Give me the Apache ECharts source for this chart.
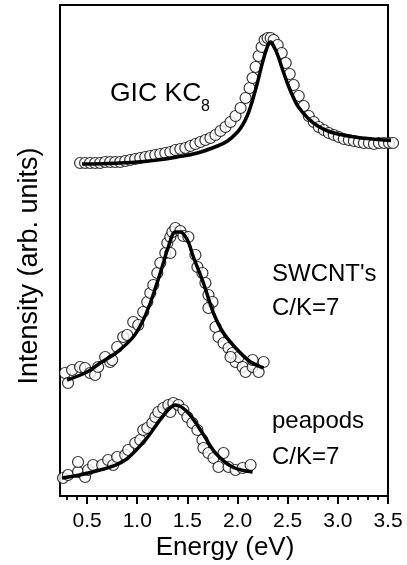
<!DOCTYPE html>
<html>
<head>
<meta charset="utf-8">
<script src="https://cdn.jsdelivr.net/npm/echarts@6/dist/echarts.min.js"></script>
<style>html,body{margin:0;padding:0;background:#fff}#c{width:407px;height:565px}</style>
</head>
<body>
<div id="c"></div>
<script>
// Tick labels / tick positions (eV)
var majorTicks = [0.5, 1.0, 1.5, 2.0, 2.5, 3.0, 3.5];
var minorTicks = [0.3, 0.4, 0.6, 0.7, 0.8, 0.9, 1.1, 1.2, 1.3, 1.4, 1.6, 1.7, 1.8, 1.9, 2.1, 2.2, 2.3, 2.4, 2.6, 2.7, 2.8, 2.9, 3.1, 3.2, 3.3, 3.4];

// GIC KC8 measured points [energy, intensity]
var gicPoints = [[0.43,333],[0.48,333],[0.53,333],[0.58,333],[0.63,333],[0.68,334],[0.73,334],[0.78,334],[0.83,334],[0.88,335],[0.93,336],[0.98,337],[1.03,338],[1.08,339],[1.13,340],[1.18,341],[1.23,342],[1.28,343],[1.33,344],[1.38,346],[1.43,347],[1.48,348],[1.53,350],[1.58,352],[1.63,354],[1.68,356],[1.73,358],[1.78,361],[1.83,365],[1.88,369],[1.93,374],[1.98,380],[2.03,388],[2.08,398],[2.12,408],[2.15,418],[2.18,429],[2.21,440],[2.24,449],[2.27,456],[2.30,458],[2.33,458],[2.36,456],[2.40,451],[2.44,443],[2.48,433],[2.52,422],[2.56,411],[2.61,400],[2.66,390],[2.71,380],[2.76,374],[2.81,369],[2.86,366],[2.91,363],[2.96,361],[3.01,359],[3.06,357],[3.11,356],[3.16,355],[3.21,354],[3.26,353],[3.31,353],[3.36,352],[3.41,353],[3.46,353],[3.51,353],[3.55,353]];
// GIC KC8 fit
var gicFit = [[0.45,332],[0.7,332.5],[1.0,334],[1.2,336],[1.4,339],[1.6,343],[1.8,350],[1.9,355],[2.0,364],[2.05,371],[2.1,381],[2.15,396],[2.2,414],[2.25,434],[2.3,450],[2.33,454],[2.36,450],[2.4,441],[2.45,426],[2.5,412],[2.55,400],[2.6,390],[2.7,378],[2.8,370],[2.9,365],[3.0,362],[3.2,358.5],[3.4,356.5],[3.55,355.5]];

// SWCNT's measured points
var swcntPoints = [[0.28,123],[0.31,113],[0.35,126],[0.43,129],[0.48,128],[0.53,123],[0.58,121],[0.61,129],[0.68,139],[0.73,134],[0.75,136],[0.80,149],[0.86,159],[0.90,161],[0.96,174],[1.01,171],[1.06,184],[1.10,194],[1.13,203],[1.16,211],[1.20,223],[1.23,233],[1.28,243],[1.30,253],[1.33,259],[1.35,264],[1.38,268],[1.43,265],[1.46,260],[1.51,259],[1.58,241],[1.60,229],[1.65,223],[1.68,213],[1.71,201],[1.75,194],[1.71,188],[1.78,169],[1.81,159],[1.86,153],[1.91,148],[1.95,143],[1.98,134],[2.05,129],[2.08,124],[2.15,129],[2.21,124],[2.26,134],[2.15,136],[2.01,139],[1.93,139],[1.33,243]];
// SWCNT's fit
var swcntFit = [[0.30,116],[0.5,124],[0.63,133],[0.8,144],[0.96,159],[1.05,174],[1.13,193],[1.23,223],[1.31,249],[1.38,264],[1.43,264],[1.50,256],[1.56,239],[1.66,213],[1.76,183],[1.86,163],[2.0,146],[2.13,134],[2.26,128]];

// peapods measured points
var peapodPoints = [[0.26,18],[0.31,21],[0.41,24],[0.48,19],[0.41,34],[0.51,26],[0.56,31],[0.65,31],[0.71,36],[0.76,31],[0.80,39],[0.88,41],[0.91,46],[0.98,53],[1.03,56],[1.06,66],[1.10,68],[1.15,73],[1.18,79],[1.21,84],[1.26,88],[1.31,91],[1.36,93],[1.33,84],[1.41,91],[1.46,86],[1.50,79],[1.55,73],[1.60,66],[1.65,56],[1.66,48],[1.71,43],[1.76,38],[1.81,29],[1.86,43],[1.91,29],[1.98,26],[2.05,28],[2.13,31]];
// peapods fit
var peapodFit = [[0.25,18],[0.51,23],[0.85,34],[1.08,56],[1.25,79],[1.38,91],[1.50,84],[1.65,63],[1.78,43],[1.95,29],[2.15,24]];

var FONT = '"Liberation Sans", Arial, Helvetica, sans-serif';

function pts(d) {
  return {
    type: 'scatter', data: d, symbol: 'circle', symbolSize: 11, clip: false, z: 2,
    itemStyle: { color: '#fff', borderColor: '#000', borderWidth: 1.2 }
  };
}
function fit(d) {
  return {
    type: 'line', data: d, showSymbol: false, smooth: 0.35, clip: false, z: 3,
    lineStyle: { color: '#000', width: 3.5 }
  };
}

var chart = echarts.init(document.getElementById('c'), null, { renderer: 'canvas' });
chart.setOption({
  animation: false,
  grid: { left: 60, right: 19, top: 5, bottom: 69, show: true, borderColor: '#000', borderWidth: 2 },
  xAxis: [{
    type: 'value', min: 0.23, max: 3.5,
    axisLine: { show: true, onZero: false, lineStyle: { color: '#000', width: 2 } },
    axisTick: { show: true, customValues: majorTicks, length: 8, lineStyle: { color: '#000', width: 2 } },
    axisLabel: { show: true, customValues: majorTicks, margin: 15, color: '#000', fontSize: 21, fontFamily: FONT,
      formatter: function (v) { return v.toFixed(1); } },
    splitLine: { show: false }
  }, {
    type: 'value', min: 0.23, max: 3.5, position: 'bottom',
    axisLine: { show: false, onZero: false },
    axisTick: { show: true, customValues: minorTicks, length: 4, lineStyle: { color: '#000', width: 1.8 } },
    axisLabel: { show: false },
    splitLine: { show: false }
  }],
  yAxis: {
    type: 'value', min: 0, max: 491,
    axisLine: { show: true, lineStyle: { color: '#000', width: 2 } },
    axisTick: { show: false }, axisLabel: { show: false }, splitLine: { show: false }
  },
  series: [
    pts(gicPoints), fit(gicFit),
    pts(swcntPoints), fit(swcntFit),
    pts(peapodPoints), fit(peapodFit)
  ],
  graphic: [
    { type: 'text', x: 225, y: 548, style: { text: 'Energy (eV)', font: '26px ' + FONT, fill: '#000', align: 'center', verticalAlign: 'middle' } },
    { type: 'text', x: 30, y: 266, rotation: Math.PI / 2, style: { text: 'Intensity (arb. units)', font: '27px ' + FONT, fill: '#000', align: 'center', verticalAlign: 'middle' } },
    { type: 'text', x: 110, y: 94, style: { text: 'GIC KC', font: '26.5px ' + FONT, fill: '#000', align: 'left', verticalAlign: 'middle' } },
    { type: 'text', x: 201, y: 107, style: { text: '8', font: '16px ' + FONT, fill: '#000', align: 'left', verticalAlign: 'middle' } },
    { type: 'text', x: 272, y: 274, style: { text: "SWCNT's", font: '24px ' + FONT, fill: '#000', align: 'left', verticalAlign: 'middle' } },
    { type: 'text', x: 272, y: 308, style: { text: 'C/K=7', font: '24px ' + FONT, fill: '#000', align: 'left', verticalAlign: 'middle' } },
    { type: 'text', x: 272, y: 421, style: { text: 'peapods', font: '24px ' + FONT, fill: '#000', align: 'left', verticalAlign: 'middle' } },
    { type: 'text', x: 272, y: 457, style: { text: 'C/K=7', font: '24px ' + FONT, fill: '#000', align: 'left', verticalAlign: 'middle' } }
  ]
});
</script>
</body>
</html>
